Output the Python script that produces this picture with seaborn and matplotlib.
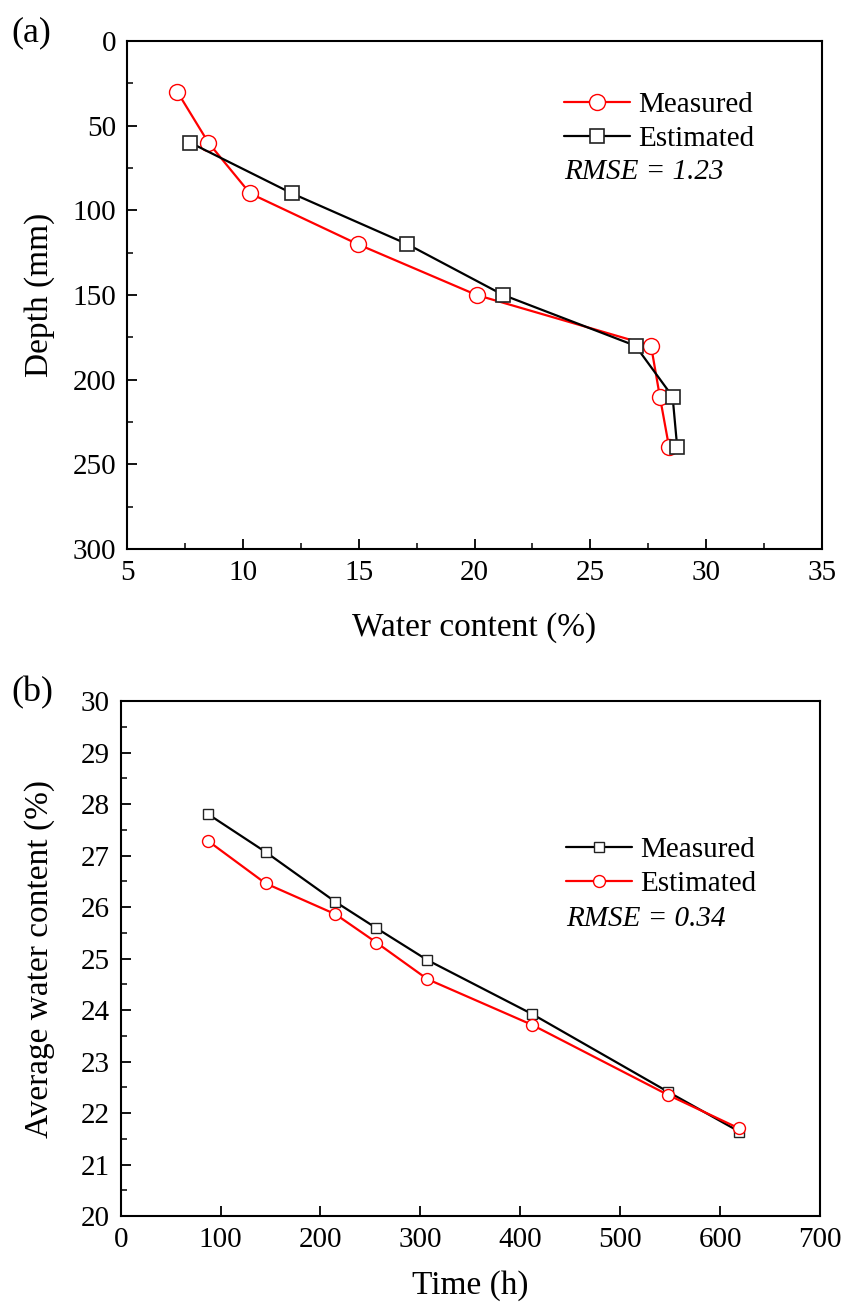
import numpy as np
import matplotlib
matplotlib.use("Agg")
import matplotlib.pyplot as plt
import seaborn as sns
import pandas as pd
from matplotlib.ticker import MultipleLocator

# Panel (a): water content profile vs depth
depth_a = [30, 60, 90, 120, 150, 180, 210, 240]
meas_a = [7.17, 8.51, 10.31, 14.96, 20.09, 27.62, 28.0, 28.40]
depth_est_a = [60, 90, 120, 150, 180, 210, 240]
est_a = [7.72, 12.12, 17.10, 21.24, 26.95, 28.55, 28.75]

# Panel (b): average water content vs time
time_b = [87, 145, 215, 256, 307, 412, 548, 619]
meas_b = [27.81, 27.07, 26.10, 25.59, 24.97, 23.92, 22.41, 21.64]
est_b = [27.29, 26.46, 25.86, 25.31, 24.60, 23.71, 22.35, 21.70]

rmse_a = "RMSE = 1.23"
rmse_b = "RMSE = 0.34"

sns.set_style("ticks")
plt.rcParams["font.family"] = ["Liberation Serif", "DejaVu Serif"]
plt.rcParams["text.color"] = "black"
plt.rcParams["axes.labelcolor"] = "black"
plt.rcParams["xtick.color"] = "black"
plt.rcParams["ytick.color"] = "black"
tick_fs = 21
lab_fs = 24
leg_fs = 21

fig = plt.figure(figsize=(8.43, 13.05), dpi=100)
ax1 = fig.add_axes([0.1507, 0.5793, 0.8244, 0.3893])
ax2 = fig.add_axes([0.1431, 0.0682, 0.8297, 0.3946])

df_ma = pd.DataFrame({"x": meas_a, "y": depth_a})
df_ea = pd.DataFrame({"x": est_a, "y": depth_est_a})
sns.lineplot(data=df_ma, x="x", y="y", sort=False, estimator=None, ax=ax1,
             color="#ff0000", lw=1.6, marker="o", ms=11.5, mfc="white",
             mec="#ff0000", mew=1.0, label="Measured")
sns.lineplot(data=df_ea, x="x", y="y", sort=False, estimator=None, ax=ax1,
             color="black", lw=1.6, marker="s", ms=10, mfc="white",
             mec="#222222", mew=1.2, label="Estimated")

ax1.set_xlim(5, 35)
ax1.set_ylim(300, 0)
ax1.xaxis.set_major_locator(MultipleLocator(5))
ax1.xaxis.set_minor_locator(MultipleLocator(2.5))
ax1.yaxis.set_major_locator(MultipleLocator(50))
ax1.yaxis.set_minor_locator(MultipleLocator(25))
ax1.set_xlabel("Water content (%)", fontsize=lab_fs)
ax1.set_ylabel("Depth (mm)", fontsize=lab_fs)
ax1.xaxis.set_label_coords(0.5, -0.124)
ax1.yaxis.set_label_coords(-0.104, 0.5)
ax1.legend(loc="upper left", bbox_to_anchor=(0.612, 0.923), frameon=False,
           fontsize=leg_fs, handlelength=2.27, handletextpad=0.28,
           labelspacing=0.25, borderaxespad=0)
ax1.text(0.629, 0.742, rmse_a, transform=ax1.transAxes, fontsize=leg_fs,
         style="italic", va="center")
fig.text(0.014, 0.975, "(a)", fontsize=26, va="center")

df_mb = pd.DataFrame({"x": time_b, "y": meas_b})
df_eb = pd.DataFrame({"x": time_b, "y": est_b})
sns.lineplot(data=df_mb, x="x", y="y", estimator=None, ax=ax2,
             color="black", lw=1.6, marker="s", ms=7.7, mfc="white",
             mec="#222222", mew=1.0, label="Measured")
sns.lineplot(data=df_eb, x="x", y="y", estimator=None, ax=ax2,
             color="#ff0000", lw=1.6, marker="o", ms=8.6, mfc="white",
             mec="#ff0000", mew=1.0, label="Estimated")

ax2.set_xlim(0, 700)
ax2.set_ylim(20, 30)
ax2.xaxis.set_major_locator(MultipleLocator(100))
ax2.yaxis.set_major_locator(MultipleLocator(1))
ax2.yaxis.set_minor_locator(MultipleLocator(0.5))
ax2.set_xlabel("Time (h)", fontsize=lab_fs)
ax2.set_ylabel("Average water content (%)", fontsize=lab_fs)
ax2.xaxis.set_label_coords(0.5, -0.105)
ax2.yaxis.set_label_coords(-0.094, 0.5)
ax2.legend(loc="upper left", bbox_to_anchor=(0.62, 0.759), frameon=False,
           fontsize=leg_fs, handlelength=2.27, handletextpad=0.28,
           labelspacing=0.25, borderaxespad=0)
ax2.text(0.637, 0.577, rmse_b, transform=ax2.transAxes, fontsize=leg_fs,
         style="italic", va="center")
fig.text(0.014, 0.469, "(b)", fontsize=26, va="center")

for ax in (ax1, ax2):
    for s in ax.spines.values():
        s.set_visible(True)
        s.set_linewidth(1.5)
        s.set_color("black")
    ax.tick_params(which="major", direction="in", length=7, width=1.3,
                   labelsize=tick_fs, pad=8, colors="black")
    ax.tick_params(which="minor", direction="in", length=4, width=1.1,
                   colors="black")

fig.savefig("out.png", dpi=100)
